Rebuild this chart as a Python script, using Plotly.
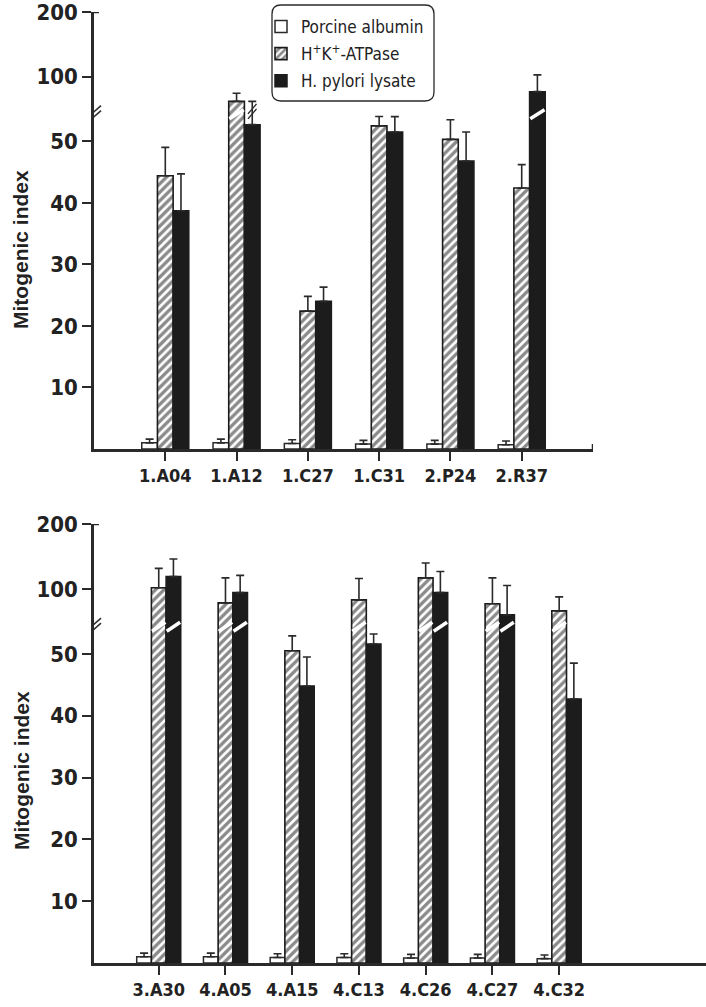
import plotly.graph_objects as go

# ---------------- data ----------------
categories_top = ['1.A04', '1.A12', '1.C27', '1.C31', '2.P24', '2.R37']
albumin_top = [1.0, 1.0, 0.9, 0.8, 0.8, 0.7]
albumin_top_err = [0.6, 0.6, 0.6, 0.6, 0.6, 0.6]
atpase_top = [44.4, 71.5, 22.4, 52.5, 50.3, 42.4]
atpase_top_err = [4.6, 9.4, 2.4, 1.6, 3.2, 3.8]
lysate_top = [38.7, 52.7, 24.0, 51.5, 46.8, 82.7]
lysate_top_err = [6.0, 18.8, 2.3, 2.5, 4.7, 20.0]

categories_bot = ['3.A30', '4.A05', '4.A15', '4.C13', '4.C26', '4.C27', '4.C32']
albumin_bot = [1.0, 1.0, 0.9, 0.9, 0.8, 0.8, 0.7]
albumin_bot_err = [0.6, 0.6, 0.6, 0.6, 0.6, 0.6, 0.6]
atpase_bot = [101.7, 84.0, 50.5, 87.5, 117.0, 83.0, 74.9]
atpase_bot_err = [30.0, 33.0, 2.4, 28.5, 23.0, 34.0, 16.0]
lysate_bot = [119.0, 95.8, 44.8, 51.6, 95.8, 70.3, 42.7]
lysate_bot_err = [27.0, 25.0, 4.7, 1.6, 31.0, 35.0, 5.8]

y_tick_values = [10, 20, 30, 40, 50, 100, 200]
series_names = ['Porcine albumin', 'H<sup>+</sup>K<sup>+</sup>-ATPase', 'H. pylori lysate']

# ---------------- broken-axis transform ----------------
BREAK = 54.0
T100 = 60.5
T200 = 71.0


def tr(v):
    if v <= BREAK:
        return v
    if v <= 100:
        return BREAK + (v - BREAK) * (T100 - BREAK) / (100 - BREAK)
    return T100 + (v - 100) * (T200 - T100) / 100.0


W, H = 706, 1007


def px_x(p):
    return p / W


def px_y(p):
    return 1 - p / H


AX = '#2a2a2a'
FONT_NUM = 'DejaVu Sans Condensed'
FONT_CAT = 'DejaVu Sans Condensed'
BARGAP = 0.34

fig = go.Figure()

panels = [
    dict(cats=categories_top, series=[(albumin_top, albumin_top_err), (atpase_top, atpase_top_err), (lysate_top, lysate_top_err)],
         xa='x', ya='y', legend=True, xrange=[0, 7]),
    dict(cats=categories_bot, series=[(albumin_bot, albumin_bot_err), (atpase_bot, atpase_bot_err), (lysate_bot, lysate_bot_err)],
         xa='x2', ya='y2', legend=False, xrange=[0.03, 9.2]),
]

styles = [
    dict(marker=dict(color='white', line=dict(color=AX, width=1.5))),
    dict(marker=dict(color='white', line=dict(color='#1a1a1a', width=1.6),
                     pattern=dict(shape='/', size=6, solidity=0.55, fgcolor='#151515', bgcolor='white'))),
    dict(marker=dict(color='#1c1c1c', line=dict(color='#1c1c1c', width=1.5))),
]

shapes = []
for p in panels:
    xs = list(range(1, len(p['cats']) + 1))
    bw = (1 - BARGAP) / 3.0
    for k, (vals, errs) in enumerate(p['series']):
        tv = [tr(v) for v in vals]
        te = [tr(v + e) - tr(v) for v, e in zip(vals, errs)]
        fig.add_trace(go.Bar(
            x=xs, y=tv, name=series_names[k], xaxis=p['xa'], yaxis=p['ya'],
            showlegend=p['legend'], legendgroup='g%d' % k,
            error_y=dict(type='data', symmetric=False, array=te, arrayminus=[0] * len(te),
                         color=AX, thickness=1.6, width=4),
            **styles[k]))
        # white slash across bars that pass through the break
        for xi, v in zip(xs, vals):
            if v > BREAK + 0.5:
                cx = xi + (k - 1) * bw
                shapes.append(dict(type='line', xref=p['xa'], yref=p['ya'],
                                   x0=cx - bw / 2 + 0.01, x1=cx + bw / 2 - 0.01,
                                   ysizemode='pixel', yanchor=BREAK + 0.3, y0=-4, y1=5,
                                   line=dict(color='white', width=3.5)))
    # axis break marks
    x0r = p['xrange'][0]
    shapes.append(dict(type='line', xref=p['xa'], yref=p['ya'], xsizemode='pixel', xanchor=x0r,
                       x0=-1, x1=1, ysizemode='pixel', yanchor=BREAK + 0.4, y0=-4, y1=4,
                       line=dict(color='white', width=5)))
    for off in (-2.5, 2.5):
        shapes.append(dict(type='line', xref=p['xa'], yref=p['ya'], xsizemode='pixel', xanchor=x0r,
                           x0=-7, x1=7, ysizemode='pixel', yanchor=BREAK + 0.4, y0=-6 + off, y1=6 + off,
                           line=dict(color=AX, width=1.5)))
    # cap at top of y axis
    shapes.append(dict(type='line', xref=p['xa'], yref=p['ya'], xsizemode='pixel', xanchor=x0r,
                       x0=-1, x1=5, y0=T200, y1=T200, line=dict(color=AX, width=2.5)))

# cap at right end of upper x axis
shapes.append(dict(type='line', xref='x', yref='y', x0=7, x1=7, ysizemode='pixel', yanchor=0,
                   y0=-5, y1=5, line=dict(color=AX, width=2.5)))

# "//" on the 1.A12 lysate error bar
bw_top = (1 - BARGAP) / 3.0
for off in (-2.5, 2.5):
    shapes.append(dict(type='line', xref='x', yref='y', x0=2 + bw_top - 0.06, x1=2 + bw_top + 0.06,
                       ysizemode='pixel', yanchor=tr(60), y0=-5 + off, y1=5 + off,
                       line=dict(color=AX, width=1.4)))

# legend box (rounded)
lx0, lx1, ly0, ly1 = 272, 434, 5, 101
r = 9
path = ('M {a},{b} L {c},{b} Q {e},{b} {e},{f} L {e},{g} Q {e},{h} {c},{h} L {a},{h} '
        'Q {i},{h} {i},{g} L {i},{f} Q {i},{b} {a},{b} Z').format(
    a=px_x(lx0 + r), b=px_y(ly0), c=px_x(lx1 - r), e=px_x(lx1), f=px_y(ly0 + r),
    g=px_y(ly1 - r), h=px_y(ly1), i=px_x(lx0))
shapes.append(dict(type='path', xref='paper', yref='paper', path=path,
                   line=dict(color=AX, width=1.3), fillcolor='rgba(0,0,0,0)'))

axis_common = dict(showgrid=False, zeroline=False, showline=True, linecolor=AX, linewidth=2.5,
                   ticks='outside', tickcolor=AX, tickwidth=2, ticklen=9, automargin=False,
                   ticklabeloverflow='allow')

cat_font = dict(family=FONT_CAT, size=18, color='#222', weight='bold')
num_font = dict(family=FONT_NUM, size=22, color='#222', weight='bold')
title_font = dict(family='Liberation Sans', size=21, color='#222', weight='bold')

fig.update_layout(
    width=W, height=H, margin=dict(l=0, r=0, t=0, b=0, pad=0),
    paper_bgcolor='white', plot_bgcolor='white',
    barmode='group', bargap=BARGAP,
    shapes=shapes,
    showlegend=True,
    legend=dict(x=px_x(261), y=px_y(9), xanchor='left', yanchor='top',
                bgcolor='rgba(0,0,0,0)', borderwidth=0, tracegroupgap=2,
                font=dict(family=FONT_CAT, size=17, color='#222')),
    xaxis=dict(domain=[px_x(94), px_x(593)], range=[0, 7], anchor='y',
               tickvals=list(range(1, 7)), ticktext=categories_top, tickfont=cat_font, **axis_common),
    yaxis=dict(domain=[px_y(449), px_y(12)], range=[0, T200], anchor='x',
               tickvals=[tr(v) for v in y_tick_values], ticktext=[str(v) for v in y_tick_values],
               tickfont=num_font, **axis_common),
    xaxis2=dict(domain=[px_x(94), 1.0], range=[0.03, 9.2], anchor='y2',
                tickvals=list(range(1, 8)), ticktext=categories_bot, tickfont=cat_font, **axis_common),
    yaxis2=dict(domain=[px_y(963), px_y(524)], range=[0, T200], anchor='x2',
                tickvals=[tr(v) for v in y_tick_values], ticktext=[str(v) for v in y_tick_values],
                tickfont=num_font, **axis_common),
    annotations=[
        dict(text='Mitogenic index', xref='paper', yref='paper', x=px_x(21), y=px_y(250),
             xanchor='center', yanchor='middle', textangle=-90, showarrow=False, font=title_font),
        dict(text='Mitogenic index', xref='paper', yref='paper', x=px_x(21), y=px_y(771),
             xanchor='center', yanchor='middle', textangle=-90, showarrow=False, font=title_font),
    ],
)

fig.write_html('out.html', config={'displayModeBar': False},
               post_script="document.body.style.margin='0px';document.body.style.overflow='hidden';")
